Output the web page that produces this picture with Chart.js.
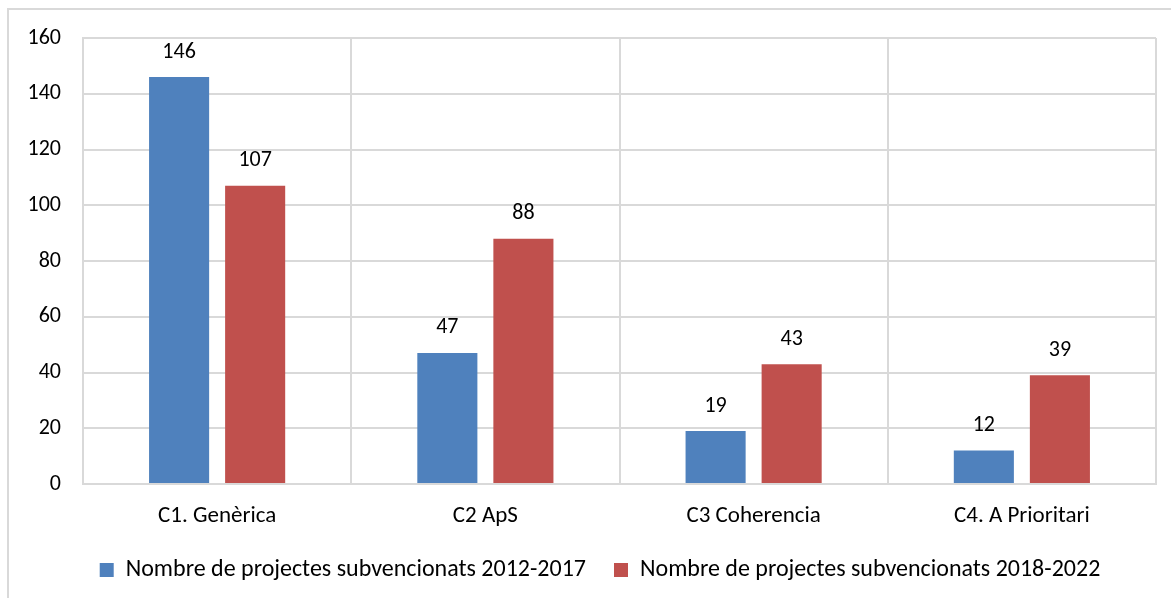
<!DOCTYPE html>
<html>
<head>
<meta charset="utf-8">
<script src="https://cdn.jsdelivr.net/npm/chart.js@4.4.0/dist/chart.umd.min.js"></script>
<style>
  html, body { margin: 0; padding: 0; background: #fff; }
  #wrap { position: relative; width: 1171px; height: 598px; }
</style>
</head>
<body>
<div id="wrap"><canvas id="chart" width="1171" height="598"></canvas></div>
<script>
// ── Data ──────────────────────────────────────────────
const categories = ['C1. Genèrica', 'C2 ApS', 'C3 Coherencia', 'C4. A Prioritari'];
const series2012 = [146, 47, 19, 12];
const series2018 = [107, 88, 43, 39];
const seriesNames = ['Nombre de projectes subvencionats 2012-2017', 'Nombre de projectes subvencionats 2018-2022'];
const yTicks = [0, 20, 40, 60, 80, 100, 120, 140, 160];

const FONT = 'Carlito, Calibri, Lato, sans-serif';
const textCol = '#000000';
const gridCol = '#d9d9d9';

// outer frame (top + left edge of the chart box)
const frame = {
  id: 'frame',
  beforeDraw(chart) {
    const c = chart.ctx;
    c.save();
    c.strokeStyle = gridCol;
    c.lineWidth = 2;
    c.beginPath();
    c.moveTo(1171, 9);
    c.lineTo(8, 9);
    c.lineTo(8, 598);
    c.stroke();
    c.restore();
  }
};

// nudge the legend a bit right, the original centres it in the outer frame
const legendShift = {
  id: 'legendShift',
  afterLayout(chart) {
    if (!chart.legend) return;
    chart.legend.left += 22;
    chart.legend.right += 22;
  }
};

// value labels above each bar
const valueLabels = {
  id: 'valueLabels',
  afterDatasetsDraw(chart) {
    const c = chart.ctx;
    c.save();
    c.font = '22px ' + FONT;
    c.fillStyle = textCol;
    c.textAlign = 'center';
    c.textBaseline = 'middle';
    chart.data.datasets.forEach(function(ds, i) {
      chart.getDatasetMeta(i).data.forEach(function(bar, j) {
        c.fillText(String(ds.data[j]), bar.x, bar.y - 25);
      });
    });
    c.restore();
  }
};

new Chart(document.getElementById('chart'), {
  type: 'bar',
  data: {
    labels: categories,
    datasets: [
      { label: seriesNames[0], data: series2012, backgroundColor: '#4f81bd' },
      { label: seriesNames[1], data: series2018, backgroundColor: '#c0504d' },
    ]
  },
  options: {
    responsive: false,
    animation: false,
    devicePixelRatio: 1,
    categoryPercentage: 0.567,
    barPercentage: 0.79,
    layout: { padding: { top: 38, right: 15, left: 0, bottom: 6 } },
    plugins: {
      tooltip: { enabled: false },
      legend: {
        position: 'bottom',
        labels: {
          color: textCol,
          font: { size: 24, family: FONT },
          boxWidth: 14,
          boxHeight: 14,
          padding: 28,
        }
      }
    },
    scales: {
      x: {
        afterFit: function(s) { s.height = 46; },
        grid: { color: gridCol, lineWidth: 2, drawTicks: false, offset: true },
        border: { color: gridCol, width: 2 },
        ticks: { color: textCol, font: { size: 23, family: FONT }, padding: 18 },
      },
      y: {
        min: 0,
        max: 160,
        afterBuildTicks: function(s) { s.ticks = yTicks.map(function(v) { return { value: v }; }); },
        afterFit: function(s) { s.width = 83; },
        grid: { color: gridCol, lineWidth: 2, drawTicks: false },
        border: { color: gridCol, width: 2 },
        ticks: { color: textCol, font: { size: 22, family: FONT }, padding: 22 },
      }
    }
  },
  plugins: [frame, legendShift, valueLabels]
});
</script>
</body>
</html>
